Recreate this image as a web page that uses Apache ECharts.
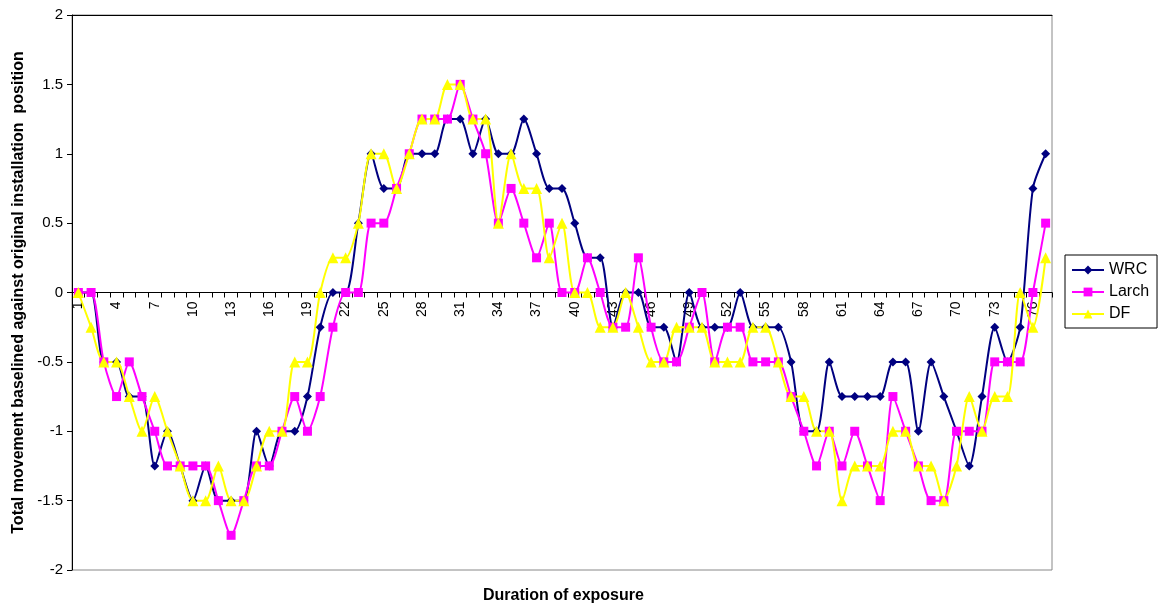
<!DOCTYPE html>
<html>
<head>
<meta charset="utf-8">
<script src="https://cdn.jsdelivr.net/npm/echarts@6/dist/echarts.min.js"></script>
<style>
  html, body { margin: 0; padding: 0; background: #fff; }
  #chart { width: 1164px; height: 610px; }
</style>
</head>
<body>
<div id="chart"></div>
<script>
  // days 1..77
  const days = []
  for (let i = 1; i <= 77; i++) days.push(String(i))

  const wrc = [0, 0, -0.5, -0.5, -0.75, -0.75, -1.25, -1, -1.25, -1.5,
    -1.25, -1.5, -1.5, -1.5, -1, -1.25, -1, -1, -0.75, -0.25,
    0, 0, 0.5, 1, 0.75, 0.75, 1, 1, 1, 1.25,
    1.25, 1, 1.25, 1, 1, 1.25, 1, 0.75, 0.75, 0.5,
    0.25, 0.25, -0.25, 0, 0, -0.25, -0.25, -0.5, 0, -0.25,
    -0.25, -0.25, 0, -0.25, -0.25, -0.25, -0.5, -1, -1, -0.5,
    -0.75, -0.75, -0.75, -0.75, -0.5, -0.5, -1, -0.5, -0.75, -1,
    -1.25, -0.75, -0.25, -0.5, -0.25, 0.75, 1]

  const larch = [0, 0, -0.5, -0.75, -0.5, -0.75, -1, -1.25, -1.25, -1.25,
    -1.25, -1.5, -1.75, -1.5, -1.25, -1.25, -1, -0.75, -1, -0.75,
    -0.25, 0, 0, 0.5, 0.5, 0.75, 1, 1.25, 1.25, 1.25,
    1.5, 1.25, 1, 0.5, 0.75, 0.5, 0.25, 0.5, 0, 0,
    0.25, 0, -0.25, -0.25, 0.25, -0.25, -0.5, -0.5, -0.25, 0,
    -0.5, -0.25, -0.25, -0.5, -0.5, -0.5, -0.75, -1, -1.25, -1,
    -1.25, -1, -1.25, -1.5, -0.75, -1, -1.25, -1.5, -1.5, -1,
    -1, -1, -0.5, -0.5, -0.5, 0, 0.5]

  const df = [0, -0.25, -0.5, -0.5, -0.75, -1, -0.75, -1, -1.25, -1.5,
    -1.5, -1.25, -1.5, -1.5, -1.25, -1, -1, -0.5, -0.5, 0,
    0.25, 0.25, 0.5, 1, 1, 0.75, 1, 1.25, 1.25, 1.5,
    1.5, 1.25, 1.25, 0.5, 1, 0.75, 0.75, 0.25, 0.5, 0,
    0, -0.25, -0.25, 0, -0.25, -0.5, -0.5, -0.25, -0.25, -0.25,
    -0.5, -0.5, -0.5, -0.25, -0.25, -0.5, -0.75, -0.75, -1, -1,
    -1.5, -1.25, -1.25, -1.25, -1, -1, -1.25, -1.25, -1.5, -1.25,
    -0.75, -1, -0.75, -0.75, 0, -0.25, 0.25]

  const font = 'Liberation Sans, Arial, sans-serif'

  function mkSeries(name, data, color, symbol, size) {
    return {
      name: name,
      type: 'line',
      data: data,
      smooth: 0.25,
      symbol: symbol,
      symbolSize: size,
      showAllSymbol: true,
      itemStyle: { color: color },
      lineStyle: { color: color, width: 2 },
      emphasis: { disabled: true },
      animation: false
    }
  }

  const chart = echarts.init(document.getElementById('chart'))
  chart.setOption({
    backgroundColor: '#fff',
    grid: {
      left: 72, right: 112, top: 15, bottom: 40,
      show: true, borderColor: '#888', borderWidth: 1
    },
    legend: {
      orient: 'vertical',
      left: 1065, top: 255,
      width: 92,
      padding: [7, 8, 6, 6],
      itemGap: 6,
      itemWidth: 32, itemHeight: 11,
      borderColor: '#000', borderWidth: 1,
      textStyle: { fontFamily: font, fontSize: 16, color: '#000' },
      data: ['WRC', 'Larch', 'DF']
    },
    xAxis: [{
      type: 'category',
      data: days,
      boundaryGap: true,
      // the axis crosses at y = 0, half way down the plot
      offset: -277.5,
      axisLine: { onZero: false, lineStyle: { color: '#000', width: 1 } },
      axisTick: { show: true, interval: 0, length: 5, lineStyle: { color: '#000' } },
      axisLabel: {
        interval: 2, rotate: 90, margin: 9,
        fontFamily: font, fontSize: 14, color: '#000'
      },
      splitLine: { show: false }
    }, {
      type: 'category',
      position: 'top',
      data: days,
      axisLine: { onZero: false, lineStyle: { color: '#000', width: 1 } },
      axisTick: { show: false },
      axisLabel: { show: false }
    }],
    yAxis: {
      type: 'value',
      min: -2, max: 2, interval: 0.5,
      name: 'Total movement baselined against original installation  position',
      nameLocation: 'middle',
      nameGap: 45,
      nameTextStyle: { fontFamily: font, fontSize: 16, fontWeight: 'bold', color: '#000' },
      axisLine: { show: true, lineStyle: { color: '#000', width: 1 } },
      axisTick: { show: true, length: 5, lineStyle: { color: '#000' } },
      axisLabel: { fontFamily: font, fontSize: 15, color: '#000', margin: 9 },
      splitLine: { show: false }
    },
    graphic: [{
      type: 'text',
      left: 483, top: 588,
      style: {
        text: 'Duration of exposure',
        font: 'bold 16px ' + font,
        fill: '#000'
      }
    }],
    series: [
      mkSeries('WRC', wrc, '#000080', 'diamond', 9),
      mkSeries('Larch', larch, '#ff00ff', 'rect', 9),
      mkSeries('DF', df, '#ffff00', 'triangle', 11)
    ]
  })
</script>
</body>
</html>
